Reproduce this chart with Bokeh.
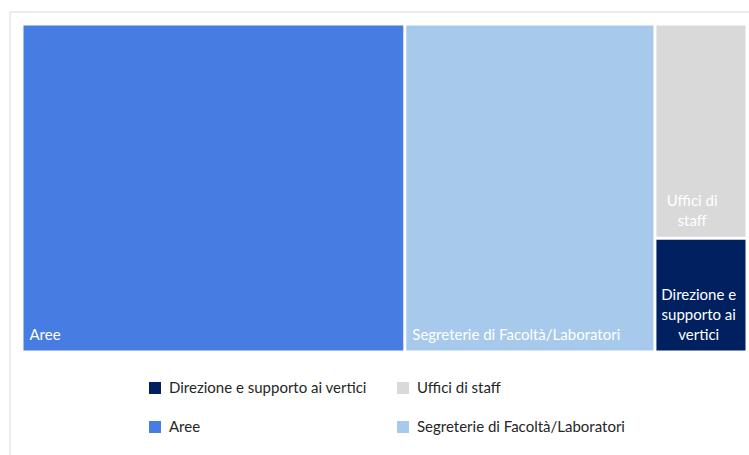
from bokeh.plotting import figure
from bokeh.models import ColumnDataSource, Range1d, Legend, LegendItem
from bokeh.core.properties import value
from bokeh.embed import file_html
from bokeh.resources import INLINE

# ---- data ----
categories = ["Direzione e supporto ai vertici", "Uffici di staff", "Aree",
              "Segreterie di Facoltà/Laboratori"]
values = [44, 83, 528, 345]
colors = ["#002060", "#D9D9D9", "#477CE2", "#A6C9EC"]

# ---- layout constants ----
W, H = 749, 455
FONT = "Lato"
FS = 15
REGION = (21.5, 23.5, 746.5, 351.5)  # x0, y0, x1, y1 (pixels, top-down)
GAP = 3


def worst(row, s):
    tot = sum(row)
    return max(max(s * s * r / (tot * tot), tot * tot / (s * s * r)) for r in row)


def squarify(vals, x, y, w, h):
    rects = []
    vals = list(vals)
    while vals:
        short = min(w, h)
        row = [vals[0]]
        i = 1
        while i < len(vals) and worst(row + [vals[i]], short) <= worst(row, short):
            row.append(vals[i])
            i += 1
        tot = sum(row)
        if w >= h:
            cw = tot / h
            yy = y
            for r in row:
                rh = r / cw
                rects.append((x, yy, x + cw, yy + rh))
                yy += rh
            x += cw
            w -= cw
        else:
            rh = tot / w
            xx = x
            for r in row:
                rw = r / rh
                rects.append((xx, y, xx + rw, y + rh))
                xx += rw
            y += rh
            h -= rh
        vals = vals[i:]
    return rects


order = sorted(range(len(values)), key=lambda i: -values[i])
x0, y0, x1, y1 = REGION
total = float(sum(values))
area = (x1 - x0) * (y1 - y0)
scaled = [values[i] * area / total for i in order]
rs = squarify(scaled, x0, y0, x1 - x0, y1 - y0)
rects = [None] * len(values)
for k, i in enumerate(order):
    rects[i] = rs[k]

g = GAP / 2.0
src = ColumnDataSource(dict(
    left=[r[0] + g for r in rects],
    top=[r[1] + g for r in rects],
    right=[r[2] - g for r in rects],
    bottom=[r[3] - g for r in rects],
    color=colors,
    name=categories,
    val=values,
))

p = figure(width=W, height=H, output_backend="svg", toolbar_location=None,
           x_range=Range1d(0, W), y_range=Range1d(H, 0),
           x_axis_type=None, y_axis_type=None,
           min_border=0, outline_line_color=None,
           background_fill_color="white", border_fill_color="white")
p.grid.visible = False

# chart-area border
p.segment(x0=[9.5, 9.5], y0=[11.5, 11.5], x1=[9.5, W + 10], y1=[H + 10, 11.5],
          line_color="#D9D9D9", line_width=1)

rq = p.quad(left="left", right="right", top="top", bottom="bottom",
            fill_color="color", line_color=None, source=src)

# data labels inside tiles
pad = 6
char_w = 0.44 * FS
line_h = 20
lx, ly, lt = [], [], []
cx_, cy_, ct = [], [], []
for i, name in enumerate(categories):
    l, t = rects[i][0] + g, rects[i][1] + g
    r, b = rects[i][2] - g, rects[i][3] - g
    avail = (r - l) - 2 * pad
    lines, cur = [], ""
    for wd in name.split(" "):
        cand = (cur + " " + wd).strip()
        if not cur or len(cand) * char_w <= avail:
            cur = cand
        else:
            lines.append(cur)
            cur = wd
    lines.append(cur)
    base = b - 17
    if len(lines) == 1:
        lx.append(l + pad)
        ly.append(base)
        lt.append(lines[0])
    else:
        maxw = max(len(s) for s in lines) * char_w
        cx = l + pad + maxw / 2
        for k, s in enumerate(reversed(lines)):
            cx_.append(cx)
            cy_.append(base - k * line_h)
            ct.append(s)

p.text(x=lx, y=ly, text=lt, text_font=value(FONT), text_font_size=f"{FS}px",
       text_color="white", text_align="left", text_baseline="alphabetic")
p.text(x=cx_, y=cy_, text=ct, text_font=value(FONT), text_font_size=f"{FS}px",
       text_color="white", text_align="center", text_baseline="alphabetic")

items = [LegendItem(label=categories[i], renderers=[rq], index=i) for i in range(len(categories))]
legend = Legend(items=items, ncols=2, orientation="horizontal", location=(147, 20),
                glyph_width=15, glyph_height=15, label_standoff=7, spacing=21,
                label_width=205, padding=0, margin=0, border_line_color=None,
                background_fill_alpha=0, label_text_font=FONT,
                label_text_font_size=f"{FS}px", label_text_color="#262626")
p.add_layout(legend)

open("out.html", "w").write(file_html(p, INLINE))
